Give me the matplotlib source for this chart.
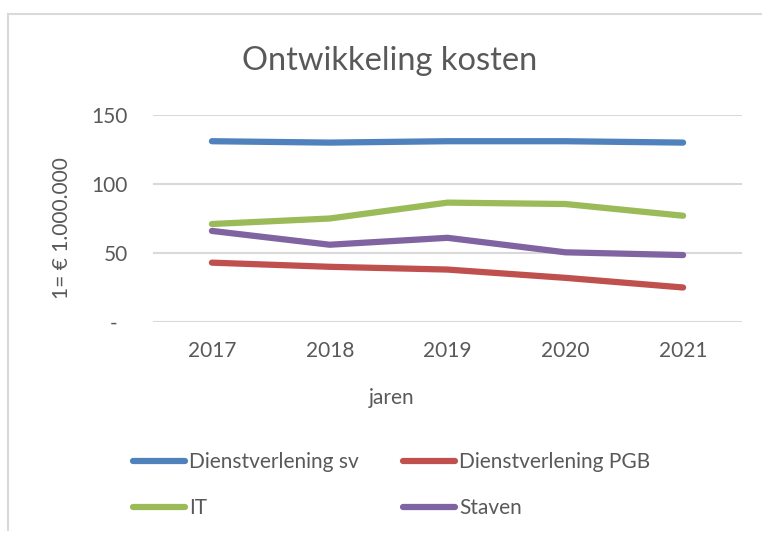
import matplotlib.pyplot as plt
from matplotlib.lines import Line2D

# data
years = ['2017', '2018', '2019', '2020', '2021']
dienst_sv = [131, 130, 131, 131, 130]
dienst_pgb = [43, 40, 38, 32, 25]
it = [71, 75, 86.5, 85.5, 77]
staven = [66, 56, 61, 50.5, 48.5]

series = [
    ('Dienstverlening sv', dienst_sv, '#4F81BD'),
    ('Dienstverlening PGB', dienst_pgb, '#C0504D'),
    ('IT', it, '#9BBB59'),
    ('Staven', staven, '#8064A2'),
]

plt.rcParams['font.family'] = ['Lato', 'DejaVu Sans']
W, H = 762, 536
fig = plt.figure(figsize=(W / 100, H / 100), dpi=100)

# chart border like excel
grey = '#D9D9D9'
fig.add_artist(Line2D([8 / W, 1], [1 - 14 / H, 1 - 14 / H], color=grey, lw=1.5))
fig.add_artist(Line2D([8 / W, 8 / W], [1 - 14 / H, 1 - 530 / H], color=grey, lw=1.5))

ax = fig.add_axes([153 / W, 1 - 322 / H, (742 - 153) / W, (322 - 115) / H])
x = range(len(years))
lines = {}
for name, vals, col in series:
    lines[name], = ax.plot(x, vals, color=col, lw=4.5, solid_capstyle='round',
                           solid_joinstyle='round', label=name)

ax.set_xlim(-0.5, len(years) - 0.5)
ax.set_ylim(0, 150)
ax.set_yticks([0, 50, 100, 150])
ax.set_yticklabels(['-  ', '50', '100', '150'])
ax.set_xticks(list(x))
ax.set_xticklabels(years)
ax.tick_params(length=0, labelsize=15, colors='#595959')
ax.tick_params(axis='y', pad=18)
ax.tick_params(axis='x', pad=14)
ax.grid(axis='y', color=grey, lw=1.5)
ax.set_axisbelow(True)
for s in ax.spines.values():
    s.set_visible(False)

fig.text(390 / W, 1 - 61 / H, 'Ontwikkeling kosten', ha='center', va='center',
         fontsize=23.5, color='#595959')
fig.text(392 / W, 1 - 398 / H, 'jaren', ha='center', va='center',
         fontsize=15, color='#595959')
fig.text(62 / W, 1 - 228 / H, '1= € 1.000.000', ha='center', va='center',
         rotation=90, fontsize=15, color='#595959')

order = ['Dienstverlening sv', 'IT', 'Dienstverlening PGB', 'Staven']
leg = fig.legend([lines[n] for n in order], order, ncol=2, loc='upper left',
                 bbox_to_anchor=(133 / W, 1 - 452 / H), frameon=False,
                 fontsize=15, handlelength=2.5, handletextpad=0.2,
                 columnspacing=2.1, labelspacing=1.25, borderpad=0,
                 borderaxespad=0)
for t in leg.get_texts():
    t.set_color('#595959')

fig.savefig('out.png', dpi=100)
